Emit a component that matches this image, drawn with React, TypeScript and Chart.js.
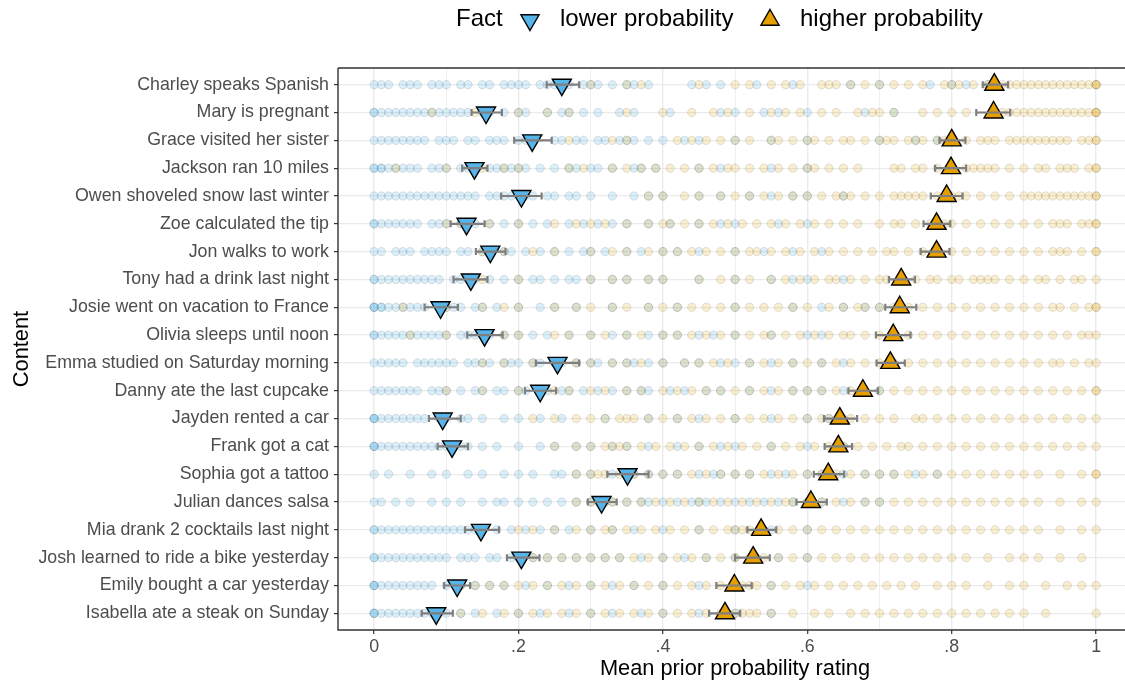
import React, { useEffect, useRef } from "react";
import { Chart, registerables } from "chart.js";
Chart.register(...registerables);

const contents = [
  "Charley speaks Spanish",
  "Mary is pregnant",
  "Grace visited her sister",
  "Jackson ran 10 miles",
  "Owen shoveled snow last winter",
  "Zoe calculated the tip",
  "Jon walks to work",
  "Tony had a drink last night",
  "Josie went on vacation to France",
  "Olivia sleeps until noon",
  "Emma studied on Saturday morning",
  "Danny ate the last cupcake",
  "Jayden rented a car",
  "Frank got a cat",
  "Sophia got a tattoo",
  "Julian dances salsa",
  "Mia drank 2 cocktails last night",
  "Josh learned to ride a bike yesterday",
  "Emily bought a car yesterday",
  "Isabella ate a steak on Sunday",
];

const lowMean = [0.26, 0.155, 0.219, 0.139, 0.204, 0.128, 0.161, 0.134, 0.092, 0.153, 0.254, 0.23, 0.095, 0.108, 0.351, 0.315, 0.148, 0.204, 0.115, 0.086];
const lowCiLow = [0.239, 0.135, 0.194, 0.122, 0.176, 0.106, 0.141, 0.11, 0.07, 0.129, 0.224, 0.209, 0.076, 0.088, 0.323, 0.296, 0.126, 0.184, 0.097, 0.066];
const lowCiHigh = [0.284, 0.177, 0.246, 0.157, 0.232, 0.153, 0.182, 0.157, 0.116, 0.178, 0.284, 0.252, 0.12, 0.13, 0.38, 0.336, 0.173, 0.229, 0.133, 0.109];

const highMean = [0.859, 0.858, 0.8, 0.799, 0.793, 0.779, 0.779, 0.73, 0.728, 0.719, 0.715, 0.677, 0.645, 0.643, 0.629, 0.605, 0.536, 0.525, 0.499, 0.486];
const highCiLow = [0.843, 0.834, 0.783, 0.777, 0.771, 0.761, 0.757, 0.713, 0.708, 0.695, 0.696, 0.657, 0.623, 0.624, 0.609, 0.585, 0.517, 0.5, 0.474, 0.464];
const highCiHigh = [0.878, 0.881, 0.819, 0.82, 0.815, 0.798, 0.797, 0.749, 0.751, 0.743, 0.735, 0.698, 0.669, 0.662, 0.651, 0.627, 0.557, 0.548, 0.523, 0.507];

// individual ratings (percent)
const lowRatings = [
  [0,1,2,4,5,6,8,9,10,12,13,15,16,18,19,20,21,23,24,25,27,29,30,31,33,35,36,38,44,46,48,53,58,66,70,77,80,82,85],
  [0,0,1,2,3,4,5,6,7,8,9,10,11,12,13,15,16,18,20,21,24,26,27,29,31,34,36,41,48,50,54,56,60,68,72],
  [0,1,2,3,4,5,6,7,9,10,11,13,14,16,17,18,20,21,22,25,26,28,29,31,32,34,35,36,38,40,43,45,50,55,60,70,75,78],
  [0,0,1,1,2,3,4,5,6,8,9,10,12,13,14,16,17,18,19,20,21,23,25,27,28,30,31,33,36,37,39,45,48,55,60],
  [0,1,2,3,4,5,6,7,8,9,10,11,12,13,14,16,17,18,19,20,21,22,24,25,27,28,30,33,36,38,40,45,48,52,55,58,60,65],
  [0,0,1,2,3,4,5,6,8,9,10,12,14,16,18,20,22,24,27,29,31,33,35,38,41,45,48,50,56,60],
  [0,1,3,4,5,7,8,9,10,12,13,15,16,18,19,21,23,25,27,29,30,32,35,37,40,42,45,50,54,58,62],
  [0,0,1,2,3,4,5,6,7,8,9,11,12,13,14,16,18,20,22,23,25,27,28,30,33,35,38,40,45,50,55,58,60,65],
  [0,0,0,1,1,2,3,4,5,6,7,9,10,11,12,14,15,17,20,23,25,28,33,38,42,50,58,62,65,68,70],
  [0,0,1,2,3,4,5,6,7,8,9,10,12,13,14,15,16,18,20,22,24,27,30,33,35,38,40,42,45,47,50,55,60,62],
  [0,1,2,3,4,6,7,8,9,10,11,13,14,15,16,18,19,20,22,23,25,26,28,30,31,33,35,36,38,40,43,45,48,50,52,55,58,62,65],
  [0,1,2,3,4,5,6,8,9,10,12,14,15,17,18,20,21,23,24,26,27,29,31,33,35,37,38,41,43,46,48,52,55,58,60,62,65,70],
  [0,0,0,1,2,3,4,5,6,7,9,10,12,13,15,18,20,23,26,32,38,42,45,50,55,60,63],
  [0,0,0,1,2,3,4,5,6,7,8,9,10,12,13,15,17,20,23,25,28,30,33,35,38,42,45,48,50,55,60,65],
  [0,2,5,8,10,13,15,18,20,22,25,26,28,30,33,35,36,38,40,42,45,47,48,50,52,55,57,60,62,65,68,70,72,75,78],
  [0,1,3,5,8,10,12,15,17,18,20,22,24,26,28,30,32,33,35,37,38,40,42,44,45,46,48,50,52,54,56,58,60,62,65,68,70],
  [0,0,1,2,3,4,5,6,7,8,9,10,11,12,13,14,15,17,19,21,23,25,27,30,33,36,40,45,50,55,60],
  [0,0,1,2,3,4,5,6,7,8,9,10,12,13,14,16,17,19,20,22,24,26,28,30,32,34,37,40,43,46,50,53,56,60],
  [0,0,0,1,2,3,4,5,6,7,8,10,12,14,16,18,21,24,27,30,33,36,40,45,50,55,60],
  [0,0,0,1,2,3,4,5,6,7,8,9,10,12,14,17,20,23,27,30,33,37,40,45,50,55],
];

const highRatings = [
  [30,35,37,45,50,52,55,57,59,62,63,64,66,68,70,72,74,76,79,80,81,83,85,87,88,89,90,91,92,93,94,95,96,97,98,99,100,100,100],
  [8,14,20,24,27,35,40,44,47,49,52,55,57,59,62,64,67,69,70,72,76,78,80,82,86,87,88,89,90,91,92,93,94,95,96,97,98,99,100,100,100],
  [27,33,35,42,44,46,48,50,52,55,56,58,60,61,63,65,66,68,70,71,72,74,75,76,78,79,80,82,84,85,86,88,89,90,91,92,93,94,95,96,98,99,100,100],
  [3,10,15,18,20,27,29,33,35,37,39,41,43,45,47,49,50,52,54,56,58,60,61,63,65,67,72,73,75,76,78,80,82,83,84,85,86,88,90,92,93,95,96,97,99,100,100],
  [38,40,43,45,48,50,52,54,56,58,60,62,64,65,66,68,70,72,73,74,75,76,78,80,81,82,84,86,88,90,91,92,93,94,95,96,97,98,99,100,100],
  [10,12,16,20,25,28,30,32,35,38,40,41,43,45,47,49,51,53,55,57,59,61,63,65,67,70,72,73,75,77,79,80,82,84,86,88,90,92,94,95,96,98,99,100,100],
  [15,18,22,25,30,33,35,38,40,42,44,46,48,50,52,53,55,57,59,61,63,65,67,69,71,72,74,76,78,80,82,84,86,88,90,92,94,95,96,98,100,100],
  [15,20,30,33,35,38,40,45,48,50,52,55,57,59,61,63,64,66,68,70,71,73,75,77,78,80,81,83,84,85,86,88,90,92,93,95,97,98,100],
  [4,10,15,18,20,25,28,30,33,35,38,40,42,44,46,48,50,52,54,56,58,60,63,65,67,68,70,72,74,76,78,80,82,84,86,88,90,92,94,95,97,99,100,100],
  [5,10,15,18,20,25,27,30,32,35,37,40,42,44,46,48,50,52,54,55,57,59,61,63,65,66,68,70,72,74,76,78,80,82,84,86,88,90,92,94,96,98,99,100],
  [15,18,22,25,28,30,33,35,37,40,43,45,47,49,52,54,56,58,60,62,64,66,68,70,72,74,76,78,80,82,84,86,88,90,92,94,95,97,99,100],
  [10,15,20,23,25,27,30,32,35,37,40,42,44,46,48,50,52,54,56,58,60,62,64,66,68,70,72,74,76,78,80,82,84,86,88,90,92,94,96,98,100,100],
  [22,25,28,30,32,34,35,36,38,40,42,44,46,48,50,52,54,56,58,60,62,63,65,66,68,70,72,75,76,78,80,82,84,86,88,90,92,94,96,98,100],
  [25,28,30,32,33,34,35,37,39,41,43,45,47,49,51,53,55,57,59,61,63,65,67,69,71,73,74,76,78,80,82,84,86,88,90,92,94,96,98,100],
  [28,30,31,32,34,36,38,40,42,44,46,48,50,52,54,56,58,60,62,64,66,68,70,72,74,76,78,80,82,84,86,88,90,92,95,98,100,100],
  [28,30,31,32,33,35,37,39,41,43,45,47,49,51,53,55,57,58,60,62,64,66,68,70,72,74,76,78,80,82,84,86,88,90,92,95,98,100],
  [20,22,25,28,30,32,33,35,37,39,41,43,45,47,49,50,51,52,54,56,58,60,62,64,66,68,70,72,74,76,78,80,82,84,86,88,90,92,95,98,100],
  [20,22,24,26,28,30,32,34,36,38,40,42,44,46,48,50,52,54,56,58,60,62,64,66,68,70,72,74,76,78,80,82,85,88,90,92,95,98],
  [12,14,16,18,20,22,24,26,28,30,32,34,36,38,40,42,44,46,48,50,51,52,53,55,57,59,61,63,65,67,69,71,73,75,78,80,82,85,88,90,93,96,98,100],
  [12,15,18,20,22,24,26,28,30,32,34,36,38,40,42,44,46,48,49,50,51,52,53,55,58,61,63,66,68,70,72,74,76,78,80,82,84,86,88,90,93,100],
];

const xTickValues = [0, 0.1, 0.2, 0.3, 0.4, 0.5, 0.6, 0.7, 0.8, 0.9, 1];
const xTickLabels = ["0", "", ".2", "", ".4", "", ".6", "", ".8", "", "1"];

const factLabels = ["lower probability", "higher probability"];
const LOW_COLOR = "#56B4E9";
const HIGH_COLOR = "#E69F00";
const FONT = '"Liberation Sans", Arial, Helvetica, sans-serif';

function drawTri(ctx: CanvasRenderingContext2D, x: number, y: number, r: number, down: boolean, fill: string) {
  const s = down ? -1 : 1;
  ctx.beginPath();
  ctx.moveTo(x, y - s * r);
  ctx.lineTo(x + r * Math.sin((2 * Math.PI) / 3), y + s * r * 0.5);
  ctx.lineTo(x - r * Math.sin((2 * Math.PI) / 3), y + s * r * 0.5);
  ctx.closePath();
  ctx.fillStyle = fill;
  ctx.fill();
  ctx.lineWidth = 1.4;
  ctx.strokeStyle = "#000";
  ctx.stroke();
}

const overlay = {
  id: "overlay",
  afterDatasetsDraw(chart: any) {
    const ctx = chart.ctx as CanvasRenderingContext2D;
    const xs = chart.scales.x;
    const ys = chart.scales.y;
    ctx.save();
    ctx.strokeStyle = "#7F7F7F";
    ctx.lineWidth = 2.2;
    const bars = [
      [lowCiLow, lowCiHigh],
      [highCiLow, highCiHigh],
    ];
    contents.forEach((_, i) => {
      const y = ys.getPixelForValue(i);
      bars.forEach(([lo, hi]) => {
        const x1 = xs.getPixelForValue(lo[i]);
        const x2 = xs.getPixelForValue(hi[i]);
        ctx.beginPath();
        ctx.moveTo(x1, y);
        ctx.lineTo(x2, y);
        ctx.moveTo(x1, y - 3.5);
        ctx.lineTo(x1, y + 3.5);
        ctx.moveTo(x2, y - 3.5);
        ctx.lineTo(x2, y + 3.5);
        ctx.stroke();
      });
    });
    const a = chart.chartArea;
    ctx.strokeStyle = "#333333";
    ctx.lineWidth = 1.4;
    ctx.beginPath();
    ctx.moveTo(a.left, a.top);
    ctx.lineTo(a.right + 5, a.top);
    ctx.moveTo(a.left, a.top);
    ctx.lineTo(a.left, a.bottom);
    ctx.lineTo(a.right + 5, a.bottom);
    ctx.stroke();
    ctx.restore();
  },
  afterDraw(chart: any) {
    const ctx = chart.ctx as CanvasRenderingContext2D;
    ctx.save();
    ctx.fillStyle = "#000";
    ctx.font = `24px ${FONT}`;
    ctx.textBaseline = "middle";
    ctx.textAlign = "left";
    // legend
    ctx.fillText("Fact", 456, 19);
    drawTri(ctx, 530, 20, 10.5, true, LOW_COLOR);
    ctx.fillStyle = "#000";
    ctx.fillText(factLabels[0], 560, 19);
    drawTri(ctx, 770, 20, 10.5, false, HIGH_COLOR);
    ctx.fillStyle = "#000";
    ctx.fillText(factLabels[1], 800, 19);
    // axis titles
    ctx.font = `21.8px ${FONT}`;
    ctx.textAlign = "center";
    ctx.fillText("Mean prior probability rating", 735, 669);
    ctx.translate(22, 349);
    ctx.rotate(-Math.PI / 2);
    ctx.fillText("Content", 0, 0);
    ctx.restore();
  },
};

export default function App() {
  const ref = useRef<HTMLCanvasElement | null>(null);
  useEffect(() => {
    if (!ref.current) return;
    const lowDots: { x: number; y: number }[] = [];
    const highDots: { x: number; y: number }[] = [];
    lowRatings.forEach((row, i) => row.forEach((v) => lowDots.push({ x: v / 100, y: i })));
    highRatings.forEach((row, i) => row.forEach((v) => highDots.push({ x: v / 100, y: i })));

    const chart = new Chart(ref.current, {
      type: "scatter",
      data: {
        datasets: [
          {
            label: factLabels[0],
            data: lowMean.map((v, i) => ({ x: v, y: i })),
            pointStyle: "triangle",
            rotation: 180,
            pointRadius: 11,
            backgroundColor: LOW_COLOR,
            borderColor: "#000",
            borderWidth: 1.4,
          },
          {
            label: factLabels[1],
            data: highMean.map((v, i) => ({ x: v, y: i })),
            pointStyle: "triangle",
            pointRadius: 11,
            backgroundColor: HIGH_COLOR,
            borderColor: "#000",
            borderWidth: 1.4,
          },
          {
            label: "high ratings",
            data: highDots,
            pointRadius: 4.2,
            backgroundColor: "rgba(230,159,0,0.18)",
            borderColor: "rgba(40,40,40,0.12)",
            borderWidth: 1,
          },
          {
            label: "low ratings",
            data: lowDots,
            pointRadius: 4.2,
            backgroundColor: "rgba(86,180,233,0.22)",
            borderColor: "rgba(40,40,40,0.12)",
            borderWidth: 1,
          },
        ],
      },
      options: {
        responsive: false,
        animation: false,
        layout: { autoPadding: false, padding: { top: 68, left: 0, right: 0, bottom: 0 } },
        plugins: { legend: { display: false }, tooltip: { enabled: false } },
        scales: {
          x: {
            type: "linear",
            min: -0.05,
            max: 1.04,
            afterBuildTicks: (scale: any) => {
              scale.ticks = xTickValues.map((v) => ({ value: v }));
            },
            afterFit: (scale: any) => {
              scale.height = 53;
              scale.paddingLeft = 0;
              scale.paddingRight = 0;
            },
            border: { display: false },
            grid: {
              color: "#EBEBEB",
              lineWidth: (c: any) => (c.index % 2 === 0 ? 1.4 : 0.8),
              tickColor: (c: any) => (c.index % 2 === 0 ? "#333333" : "rgba(0,0,0,0)"),
              tickLength: 4,
              tickWidth: 1.2,
            },
            ticks: {
              autoSkip: false,
              maxRotation: 0,
              padding: 2,
              color: "#4D4D4D",
              font: { size: 17.8, family: FONT },
              callback: (_v: any, idx: number) => xTickLabels[idx],
            },
          },
          y: {
            type: "linear",
            reverse: true,
            min: -0.6,
            max: 19.6,
            afterBuildTicks: (scale: any) => {
              scale.ticks = contents.map((_, i) => ({ value: i }));
            },
            afterFit: (scale: any) => {
              scale.width = 338;
              scale.paddingTop = 0;
              scale.paddingBottom = 0;
            },
            border: { display: false },
            grid: {
              color: "#EBEBEB",
              lineWidth: 1.2,
              tickColor: "#333333",
              tickLength: 4,
              tickWidth: 1.2,
            },
            ticks: {
              autoSkip: false,
              padding: 5,
              color: "#4D4D4D",
              font: { size: 17.8, family: FONT },
              callback: (_v: any, idx: number) => contents[idx],
            },
          },
        },
      },
      plugins: [overlay],
    });
    return () => chart.destroy();
  }, []);

  return (
    <div style={{ position: "absolute", left: 0, top: 0, width: 1125, height: 683, background: "#fff" }}>
      <canvas ref={ref} width={1125} height={683} style={{ display: "block" }} />
    </div>
  );
}
